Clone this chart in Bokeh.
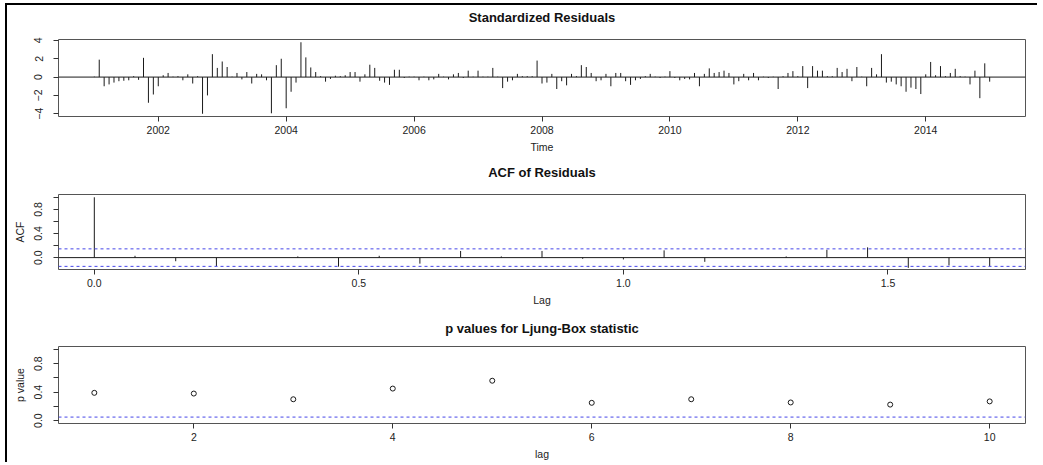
import numpy as np
from bokeh.plotting import figure
from bokeh.layouts import column
from bokeh.models import Range1d, FixedTicker, Span, Title
from bokeh.embed import file_html
from bokeh.resources import INLINE

# ---------------- data ----------------
start_year = 2001
frequency = 13
residuals = [
    0.05, 1.9, -1.0, -0.8, -0.6, -0.45, -0.4, -0.35, 0.1, -0.3,
    2.1, -2.8, -1.9, -1.0, 0.2, 0.45, 0.05, 0.1, -0.35, 0.3,
    -0.7, 0.1, -4.0, -2.0, 2.5, 1.0, 1.7, 1.1, 0.05, 0.45,
    -0.25, 0.55, -0.7, 0.35, 0.3, -0.35, -3.95, 1.3, 2.0, -3.4,
    -1.6, -0.6, 3.8, 2.15, 1.05, 0.55, 0.1, -0.5, -0.2, 0.15,
    0.1, 0.2, 0.55, 0.55, -0.5, 0.3, 1.35, 1.0, -0.4, -0.6,
    -0.85, 0.8, 0.8, -0.1, 0.05, 0.05, -0.35, 0.05, -0.35, -0.25,
    0.35, 0.05, -0.25, 0.3, 0.45, -0.1, 0.7, 0.05, 0.7, 0.05,
    0.05, 1.0, 0.05, -1.2, -0.5, -0.35, 0.35, 0.1, 0.1, 0.1,
    1.8, -0.7, -0.6, 0.35, -1.3, -0.45, -0.9, 0.35, 0.1, 1.3,
    1.1, 0.45, -0.45, -0.35, 0.35, -1.0, 0.45, 0.45, -0.45, -0.85,
    -0.35, -0.2, 0.1, 0.35, 0.05, -0.1, 0.05, 0.65, -0.1, -0.35,
    -0.2, -0.25, 0.45, -1.0, 0.35, 0.95, 0.45, 0.55, 0.7, 0.45,
    -0.8, -0.45, 0.35, -0.35, 0.45, -0.35, 0.05, -0.1, 0.05, -1.3,
    0.1, 0.45, 0.65, 0.1, 1.2, -1.2, 1.2, 0.7, 0.7, 0.1,
    0.1, 1.0, 0.55, 0.9, -0.45, 1.1, 0.05, -1.0, 1.0, 0.3,
    2.5, -0.6, -0.5, -0.8, -1.0, -1.6, -1.15, -1.3, -1.85, 0.3,
    1.65, 0.2, 1.2, 0.1, 0.45, 0.9, 0.1, 0.05, -0.8, 0.7,
    -2.3, 1.5, -0.5,
]
acf_values = [1.0, 0.03, -0.06, -0.14, 0.0, 0.02, -0.15, 0.03, -0.1, 0.11,
              0.02, 0.11, -0.02, -0.03, 0.12, -0.07, 0.0, 0.02, 0.13, 0.17,
              -0.17, -0.13, -0.14]
acf_ci = 0.145
lb_lags = [1, 2, 3, 4, 5, 6, 7, 8, 9, 10]
lb_pvalues = [0.39, 0.38, 0.30, 0.45, 0.56, 0.25, 0.30, 0.255, 0.225, 0.27]
lb_threshold = 0.05

res_xticks = [2002, 2004, 2006, 2008, 2010, 2012, 2014]
res_yticks = [-4, -2, 0, 2, 4]
acf_xticks = [0.0, 0.5, 1.0, 1.5]
prob_yticks = [0.0, 0.2, 0.4, 0.6, 0.8, 1.0]
lb_xticks = [2, 4, 6, 8, 10]

times = start_year + np.arange(len(residuals)) / frequency
acf_lags = np.arange(len(acf_values)) / frequency

FONT = "Liberation Sans"
BLUE = "#4545e8"
FRAME = "#555555"


def base(height, top, bottom, xr, yr, title, xlabel, ylabel=None, spacer="10px"):
    p = figure(width=1030, height=height, x_range=xr, y_range=yr,
               output_backend="svg", toolbar_location=None,
               min_border_left=51, min_border_right=12,
               min_border_top=top, min_border_bottom=bottom,
               background_fill_color="white", border_fill_color="white")
    p.xgrid.visible = False
    p.ygrid.visible = False
    p.outline_line_color = FRAME
    p.outline_line_width = 1
    for ax in p.axis:
        ax.axis_line_color = None
        ax.major_tick_in = 0
        ax.major_tick_out = 5
        ax.minor_tick_out = 0
        ax.minor_tick_in = 0
        ax.major_tick_line_color = "#333333"
        ax.major_label_text_font = FONT
        ax.major_label_text_font_size = "10.5px"
        ax.major_label_text_color = "#222222"
        ax.axis_label_text_font = FONT
        ax.axis_label_text_font_size = "10.5px"
        ax.axis_label_text_font_style = "normal"
        ax.axis_label_text_color = "#222222"
    p.xaxis.major_label_standoff = 4
    p.xaxis.axis_label_standoff = 4
    p.yaxis.major_label_standoff = 11
    p.yaxis.axis_label_standoff = 6
    p.yaxis.major_label_orientation = "vertical"
    p.xaxis.axis_label = xlabel
    if ylabel:
        p.yaxis.axis_label = ylabel
    # spacer between frame and title, then the title itself
    p.add_layout(Title(text=" ", text_font_size=spacer, standoff=0), "above")
    p.add_layout(Title(text=title, align="center", text_font=FONT,
                       text_font_size="13px", text_font_style="bold",
                       text_color="#111111", standoff=4), "above")
    return p


# Panel 1: standardized residuals
tspan = times[-1] - times[0]
pad_t = 0.04 * tspan
p1 = base(155, 33, 44, Range1d(times[0] - pad_t, times[-1] + pad_t),
          Range1d(-4.3, 4.1), "Standardized Residuals", "Time", spacer="10px")
p1.segment(x0=times, y0=np.zeros(len(times)), x1=times, y1=residuals,
           line_color="#1a1a1a", line_width=1)
p1.add_layout(Span(location=0, dimension="width", line_color="#1a1a1a", line_width=1))
p1.xaxis.ticker = FixedTicker(ticks=res_xticks)
p1.yaxis.ticker = FixedTicker(ticks=res_yticks)

# Panel 2: ACF
lag_max = acf_lags[-1]
p2 = base(150, 33, 41, Range1d(-0.04 * lag_max, lag_max * 1.04),
          Range1d(-0.197, 1.046), "ACF of Residuals", "Lag", "ACF", spacer="10px")
p2.segment(x0=acf_lags, y0=np.zeros(len(acf_lags)), x1=acf_lags, y1=acf_values,
           line_color="#1a1a1a", line_width=1)
p2.add_layout(Span(location=0, dimension="width", line_color="#1a1a1a", line_width=1))
for c in (acf_ci, -acf_ci):
    p2.add_layout(Span(location=c, dimension="width", line_color=BLUE,
                       line_width=1, line_dash="3 3"))
p2.xaxis.ticker = FixedTicker(ticks=acf_xticks)
p2.yaxis.ticker = FixedTicker(ticks=prob_yticks)
p2.yaxis.major_label_overrides = {0.2: "", 0.6: "", 1.0: "", 0.0: "0.0", 0.4: "0.4", 0.8: "0.8"}
p2.xaxis.major_label_overrides = {0.0: "0.0", 0.5: "0.5", 1.0: "1.0", 1.5: "1.5"}

# Panel 3: Ljung-Box p-values
p3 = base(152, 36, 39, Range1d(1 - 0.36, 10 + 0.36), Range1d(-0.04, 1.04),
          "p values for Ljung-Box statistic", "lag", "p value", spacer="6.5px")
p3.scatter(lb_lags, lb_pvalues, marker="circle", size=5, fill_color=None,
           line_color="#1a1a1a", line_width=1)
p3.add_layout(Span(location=lb_threshold, dimension="width", line_color=BLUE,
                   line_width=1, line_dash="3 3"))
p3.xaxis.ticker = FixedTicker(ticks=lb_xticks)
p3.yaxis.ticker = FixedTicker(ticks=prob_yticks)
p3.yaxis.major_label_overrides = {0.2: "", 0.6: "", 1.0: "", 0.0: "0.0", 0.4: "0.4", 0.8: "0.8"}

layout = column(p1, p2, p3, spacing=0,
                styles={"border-left": "2px solid black", "border-top": "2px solid black",
                        "margin-left": "5px", "margin-top": "3px"})

open("out.html", "w").write(file_html(layout, INLINE))
